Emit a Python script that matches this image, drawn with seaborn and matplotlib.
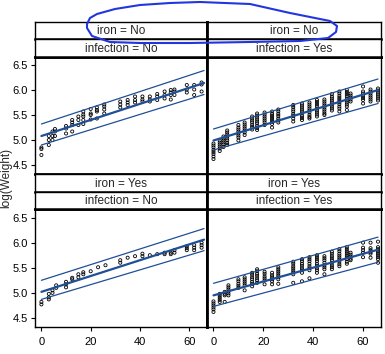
import pandas as pd
import seaborn as sns
import matplotlib.pyplot as plt
from matplotlib.lines import Line2D

W, H = 385, 354

# visit ages (one column of points each) and the log(Weight) values read per column
ages_no_no = [0, 3, 4.5, 5.5, 10, 12.5, 15, 17, 20, 22.5, 25.5, 32, 35, 38, 41, 44,
              47, 50, 52.5, 54, 59, 62, 65]
logw_no_no = [[4.85, 4.82, 4.70], [5.08, 5.00, 4.90], [5.17, 5.08, 5.00],
              [5.22, 5.17, 5.08], [5.28, 5.23, 5.13], [5.40, 5.35, 5.30, 5.17],
              [5.47, 5.40, 5.30], [5.57, 5.51, 5.47, 5.40, 5.32], [5.62, 5.53, 5.50, 5.41],
              [5.65, 5.60, 5.57, 5.43], [5.71, 5.67, 5.61, 5.53], [5.77, 5.71, 5.65],
              [5.80, 5.75, 5.70], [5.87, 5.80, 5.75], [5.87, 5.81, 5.77],
              [5.87, 5.81, 5.77], [5.92, 5.87, 5.80], [5.97, 5.90, 5.83],
              [6.00, 5.95, 5.90, 5.81], [6.01, 5.97, 5.90], [6.10, 6.01, 5.95],
              [6.10, 6.01, 5.90], [6.15, 6.11, 5.97]]

ages_no_yes = [0, 2.5, 4, 5.5, 10, 12.5, 15.5, 17.5, 20.5, 23.5, 26, 32, 35.5, 38.5,
               41.5, 44.5, 47.5, 50.5, 53.5, 55, 60, 63, 66]
logw_no_yes = [[4.93, 4.89, 4.85, 4.80, 4.76, 4.72, 4.67, 4.62],
               [4.99, 4.95, 4.91, 4.87, 4.83, 4.78],
               [5.07, 5.03, 4.99, 4.95, 4.91, 4.86],
               [5.19, 5.15, 5.11, 5.07, 5.03, 4.99, 4.94, 4.90],
               [5.30, 5.25, 5.21, 5.17, 5.13, 5.09, 5.05, 4.99],
               [5.35, 5.31, 5.27, 5.23, 5.19, 5.15, 5.10],
               [5.47, 5.43, 5.39, 5.35, 5.30, 5.26, 5.21],
               [5.53, 5.49, 5.45, 5.41, 5.37, 5.33, 5.28, 5.24, 5.20],
               [5.55, 5.51, 5.47, 5.43, 5.39, 5.35, 5.30],
               [5.57, 5.52, 5.48, 5.44, 5.40, 5.36, 5.32, 5.25],
               [5.61, 5.57, 5.52, 5.48, 5.43, 5.39, 5.35],
               [5.70, 5.66, 5.61, 5.57, 5.52, 5.48, 5.43, 5.37],
               [5.73, 5.69, 5.65, 5.61, 5.57, 5.53, 5.48, 5.44, 5.40],
               [5.75, 5.71, 5.67, 5.63, 5.59, 5.55, 5.50, 5.46, 5.43],
               [5.80, 5.76, 5.72, 5.68, 5.63, 5.59, 5.55, 5.51, 5.47],
               [5.81, 5.77, 5.73, 5.69, 5.65, 5.61, 5.57, 5.53, 5.50],
               [5.92, 5.87, 5.83, 5.79, 5.75, 5.71, 5.67, 5.63, 5.59],
               [5.97, 5.93, 5.88, 5.84, 5.80, 5.76, 5.72, 5.67, 5.63, 5.57],
               [6.00, 5.96, 5.92, 5.88, 5.83, 5.79, 5.75, 5.71, 5.67, 5.60],
               [5.93, 5.89, 5.85, 5.81, 5.77],
               [6.07, 5.97, 5.93, 5.88, 5.84, 5.80, 5.73],
               [6.01, 5.97, 5.93, 5.89, 5.85, 5.81, 5.77],
               [6.03, 5.99, 5.95, 5.91, 5.87, 5.83, 5.79]]

ages_yes_no = [0, 3, 4.5, 6, 10, 12.5, 15, 17, 20, 23, 26, 32, 35, 38, 41, 44, 47,
               50, 52.5, 54, 59, 62, 65]
logw_yes_no = [[4.82, 4.77], [4.98, 4.91, 4.87], [5.05, 5.00], [5.15, 5.10],
               [5.22, 5.17, 5.11], [5.30, 5.27], [5.37, 5.31], [5.41, 5.37], [5.43],
               [5.51], [5.55], [5.65, 5.60], [5.70], [5.73], [5.78, 5.73], [5.75],
               [5.77], [5.80, 5.77], [5.80, 5.77], [5.85, 5.80], [5.93, 5.89, 5.85],
               [5.95, 5.90, 5.85], [6.00, 5.95, 5.90]]

ages_yes_yes = [0, 2.5, 4.5, 6, 10, 12.5, 15.5, 17.5, 20.5, 23.5, 26, 32, 35.5, 38.5,
                41.5, 44.5, 47.5, 50.5, 53.5, 55, 60, 63, 66]
logw_yes_yes = [[4.83, 4.79, 4.75, 4.71, 4.67, 4.62],
                [4.98, 4.94, 4.90, 4.86, 4.82],
                [5.02, 4.98, 4.95, 4.82],
                [5.15, 5.11, 5.07, 5.03, 4.99, 4.95],
                [5.27, 5.23, 5.18, 5.14, 5.10],
                [5.31, 5.27, 5.23, 5.19, 5.15, 5.05],
                [5.40, 5.36, 5.31, 5.27, 5.22, 5.18, 5.13],
                [5.47, 5.43, 5.38, 5.34, 5.29, 5.25, 5.20],
                [5.42, 5.38, 5.33, 5.29, 5.25, 5.17],
                [5.40, 5.35, 5.31, 5.27, 5.23, 5.17],
                [5.51, 5.47, 5.43, 5.39, 5.35, 5.31, 5.27, 5.18],
                [5.62, 5.58, 5.53, 5.49, 5.45, 5.41, 5.37, 5.20],
                [5.67, 5.63, 5.58, 5.54, 5.49, 5.45, 5.40, 5.23],
                [5.71, 5.67, 5.63, 5.58, 5.53, 5.49, 5.45, 5.29],
                [5.75, 5.71, 5.67, 5.63, 5.58, 5.54, 5.49, 5.45, 5.40],
                [5.73, 5.69, 5.65, 5.60, 5.55, 5.51, 5.47, 5.37],
                [5.82, 5.78, 5.73, 5.69, 5.65, 5.60, 5.55, 5.51, 5.47],
                [5.87, 5.83, 5.78, 5.74, 5.70, 5.66, 5.62, 5.57, 5.53],
                [5.91, 5.87, 5.83, 5.79, 5.75, 5.71, 5.67, 5.62, 5.58],
                [5.80, 5.76, 5.72, 5.68, 5.65],
                [6.00, 5.90, 5.85, 5.80, 5.71],
                [6.00, 5.89, 5.85, 5.81, 5.78, 5.70],
                [6.02, 5.91, 5.87, 5.83, 5.79, 5.75, 5.71, 5.67, 5.60]]

# fitted line and the two bounds, value at age 0 and age 66
line_age = [0, 66]
fit_no_no, up_no_no, lo_no_no = [5.08, 6.14], [5.32, 6.39], [4.90, 5.91]
fit_no_yes, up_no_yes, lo_no_yes = [4.99, 6.00], [5.22, 6.22], [4.80, 5.73]
fit_yes_no, up_yes_no, lo_yes_no = [5.02, 6.06], [5.25, 6.28], [4.87, 5.84]
fit_yes_yes, up_yes_yes, lo_yes_yes = [4.95, 5.86], [5.19, 6.11], [4.73, 5.61]

levels = ["No", "Yes"]
panels = {
    ("No", "No"): (ages_no_no, logw_no_no, fit_no_no, up_no_no, lo_no_no),
    ("No", "Yes"): (ages_no_yes, logw_no_yes, fit_no_yes, up_no_yes, lo_no_yes),
    ("Yes", "No"): (ages_yes_no, logw_yes_no, fit_yes_no, up_yes_no, lo_yes_no),
    ("Yes", "Yes"): (ages_yes_yes, logw_yes_yes, fit_yes_yes, up_yes_yes, lo_yes_yes),
}

rows = []
for (iron, inf), (ages, logw, *_) in panels.items():
    for a, col in zip(ages, logw):
        for v in col:
            rows.append((a, v, iron, inf))
df = pd.DataFrame(rows, columns=["age", "logw", "iron", "infection"])

sns.set_theme(style="ticks")
plt.rcParams["font.family"] = ["Liberation Sans", "DejaVu Sans"]

g = sns.FacetGrid(df, row="iron", col="infection", row_order=levels, col_order=levels,
                  despine=False, height=1.7, aspect=1)
g.map_dataframe(sns.scatterplot, x="age", y="logw", marker="o", s=5, color="black",
                facecolor="none", edgecolor="black", linewidth=0.6)
g.set_titles("")
g.set_axis_labels("", "")
fig = g.figure
fig.set_size_inches(W / 100, H / 100)

col_x = [(35, 207), (207, 381)]
# (iron strip top, infection strip top, plot top, plot bottom) in pixels
row_y = [(22, 39, 56.5, 174), (174, 191.5, 209, 327)]
line_col = "#1f4f96"


def fpos(x0, x1, y0, y1):
    return [x0 / W, 1 - y1 / H, (x1 - x0) / W, (y1 - y0) / H]


for i, iron in enumerate(levels):
    for j, inf in enumerate(levels):
        ax = g.axes[i, j]
        ages, logw, fit, up, lo = panels[(iron, inf)]
        x0, x1 = col_x[j]
        ys, yi, yp, yb = row_y[i]
        ax.set_position(fpos(x0, x1, yp, yb))
        ax.plot(line_age, fit, color=line_col, lw=1.6, zorder=3)
        ax.plot(line_age, up, color=line_col, lw=0.9, zorder=3)
        ax.plot(line_age, lo, color=line_col, lw=0.9, zorder=3)
        ax.set_xlim(-2.6, 67.2)
        ax.set_ylim(4.32, 6.67)
        ax.set_xticks([0, 20, 40, 60])
        ax.set_yticks([4.5, 5.0, 5.5, 6.0, 6.5])
        ax.set_yticklabels(["4.5", "5.0", "5.5", "6.0", "6.5"])
        ax.tick_params(length=3, width=0.8, labelsize=8, colors="black")
        ax.tick_params(axis="y", pad=2)
        ax.tick_params(axis="x", pad=4)
        if j == 1:
            ax.tick_params(left=False, labelleft=False)
        if i == 0:
            ax.tick_params(bottom=False, labelbottom=False)
        for sp in ax.spines.values():
            sp.set_linewidth(1.0)
            sp.set_color("black")
        ax.spines["top"].set_linewidth(2.0)
        if j == 0:
            ax.spines["right"].set_linewidth(2.0)
        else:
            ax.spines["left"].set_linewidth(2.0)
        if i == 0:
            ax.spines["bottom"].set_linewidth(2.0)

        for (s0, s1, label) in [(ys, yi, f"iron = {iron}"), (yi, yp, f"infection = {inf}")]:
            sax = fig.add_axes(fpos(x0, x1, s0, s1))
            sax.set_xticks([])
            sax.set_yticks([])
            for sp in sax.spines.values():
                sp.set_linewidth(1.0)
                sp.set_color("black")
            sax.spines["bottom"].set_linewidth(1.8)
            if j == 0:
                sax.spines["right"].set_linewidth(2.0)
            else:
                sax.spines["left"].set_linewidth(2.0)
            sax.text(0.5, 0.45, label, ha="center", va="center", fontsize=8.5,
                     transform=sax.transAxes)

fig.text(6 / W, 1 - 178 / H, "log(Weight)", rotation=90, ha="center", va="center",
         fontsize=8.5)

# hand-drawn blue loop around the first strip (pixel positions)
loop_x = [87, 90, 97, 115, 140, 170, 200, 250, 290, 310, 330, 337, 336, 328, 300, 250,
          190, 140, 110, 92, 87, 87]
loop_y = [24, 18, 14, 9, 5, 3, 2, 4, 13, 17, 21, 26, 32, 38, 41, 42, 43, 43, 42, 36,
          28, 24]
fig.add_artist(Line2D([x / W for x in loop_x], [1 - y / H for y in loop_y],
                      transform=fig.transFigure, color="#2236e0", lw=1.5))

fig.savefig("out.png", dpi=100)
